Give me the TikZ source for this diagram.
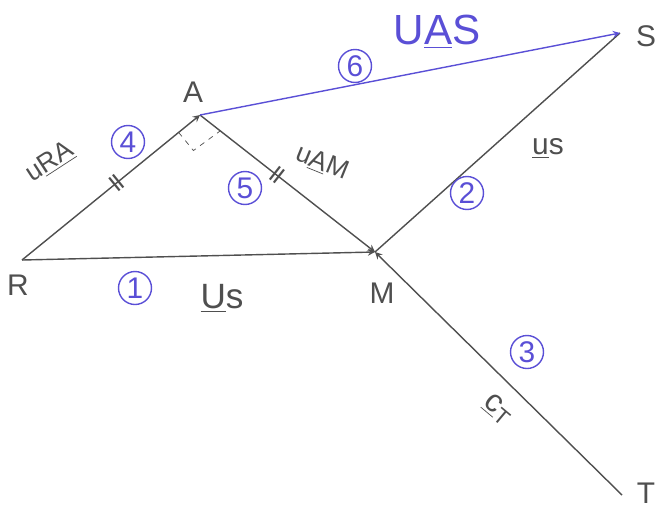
\documentclass[tikz,border=0pt]{standalone}
\usepackage{fontspec}
\setmainfont{Liberation Sans}
\usepackage{xcolor}
\usetikzlibrary{arrows, positioning, calc}

\definecolor{inkgray}{HTML}{4F4F4F}
\definecolor{inkblue}{HTML}{5A4FD6}

\begin{document}
\begin{tikzpicture}[
    x=0.02cm, y=-0.02cm,
    arrow/.style={->, thick, >=stealth, draw=inkgray},
    vecarrow/.style={->, thick, >=stealth, draw=inkblue},
    point/.style={text=inkgray, font=\fontsize{17}{19}\selectfont},
    vlabel/.style={text=inkgray, font=\fontsize{15}{17}\selectfont},
    step num/.style={circle, draw=inkblue, thick, text=inkblue, minimum size=0.66cm, inner sep=0pt, font=\fontsize{17}{19}\selectfont},
    tick/.style={sloped, text=inkgray, font=\bfseries, inner sep=0pt}
]
\useasboundingbox (0,0) rectangle (662,508);

% Points
\coordinate (R) at (22,260);
\coordinate (A) at (200,115);
\coordinate (M) at (375,252);
\coordinate (S) at (620,33);
\coordinate (T) at (622,495);

\node (lR) [point] at (18,285) {R};
\node (lA) [point] at (193,92) {A};
\node (lM) [point] at (382,293) {M};
\node (lS) [point] at (646,36) {S};
\node (lT) [point] at (646,493) {T};

% Arrows
\draw[arrow] (R) -- node[tick, pos=0.53] {||} (A);
\draw[arrow] (A) -- node[tick, pos=0.44] {||} (M);
\draw[arrow] (R) -- (M);
\draw[thick, inkgray] (M) -- (S);
\draw[arrow] (T) -- (M);
\draw[vecarrow] (A) -- (S);

% Right angle at A
\draw[inkgray, dashed] ($(A)!0.12!(R)$) -- ($(A)!0.12!(R)!0.12*222/230!90:(R)$) -- ($(A)!0.12*222/230!(M)$);

% Vector names
\node (uRA) [vlabel, rotate=33] at (50,162) {u\underline{RA}};
\node (uAM) [vlabel, rotate=-22] at (322,163) {u\underline{A}M};
\node (uS1) [vlabel, font=\fontsize{20}{22}\selectfont] at (222,298) {\underline{U}s};
\node (uS2) [vlabel, font=\fontsize{17}{19}\selectfont] at (548,148) {\underline{u}s};
\node (uT) [vlabel, rotate=-40, font=\fontsize{18}{20}\selectfont] at (498,410) {\underline{c}\textsubscript{T}};
\node (uAS) [vlabel, text=inkblue, font=\fontsize{24}{26}\selectfont] at (437,32) {U\underline{A}S};

% Order of construction
\node (n1) [step num] at (135,288) {1};
\node (n2) [step num] at (467,193) {2};
\node (n3) [step num] at (527,352) {3};
\node (n4) [step num] at (128,142) {4};
\node (n5) [step num] at (245,188) {5};
\node (n6) [step num] at (355,66) {6};

\end{tikzpicture}
\end{document}
